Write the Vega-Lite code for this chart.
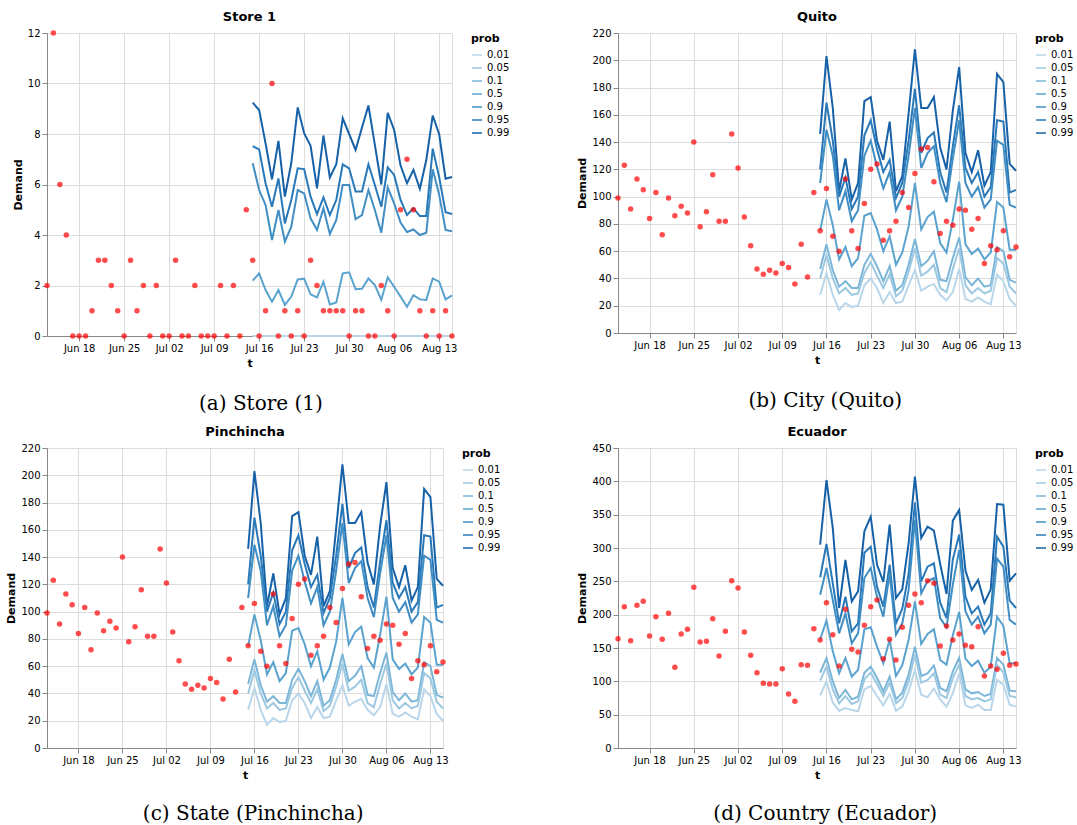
{
 "$schema": "https://vega.github.io/schema/vega-lite/v6.json",
 "padding": {"left": 5, "top": 10, "right": 0, "bottom": 0},
 "config": {"font": "DejaVu Sans", "view": {"stroke": "#ddd"}, "legend": {"offset": 13}},
 "datasets": {
  "s1o": [
   {"t":"2017/06/13","d":2},{"t":"2017/06/14","d":12},{"t":"2017/06/15","d":6},{"t":"2017/06/16","d":4},{"t":"2017/06/17","d":0},{"t":"2017/06/18","d":0},{"t":"2017/06/19","d":0},{"t":"2017/06/20","d":1},{"t":"2017/06/21","d":3},{"t":"2017/06/22","d":3},{"t":"2017/06/23","d":2},{"t":"2017/06/24","d":1},{"t":"2017/06/25","d":0},{"t":"2017/06/26","d":3},{"t":"2017/06/27","d":1},{"t":"2017/06/28","d":2},{"t":"2017/06/29","d":0},{"t":"2017/06/30","d":2},
   {"t":"2017/07/01","d":0},{"t":"2017/07/02","d":0},{"t":"2017/07/03","d":3},{"t":"2017/07/04","d":0},{"t":"2017/07/05","d":0},{"t":"2017/07/06","d":2},{"t":"2017/07/07","d":0},{"t":"2017/07/08","d":0},{"t":"2017/07/09","d":0},{"t":"2017/07/10","d":2},{"t":"2017/07/11","d":0},{"t":"2017/07/12","d":2},{"t":"2017/07/13","d":0},{"t":"2017/07/14","d":5},{"t":"2017/07/15","d":3},{"t":"2017/07/16","d":0},{"t":"2017/07/17","d":1},{"t":"2017/07/18","d":10},{"t":"2017/07/19","d":0},{"t":"2017/07/20","d":1},{"t":"2017/07/21","d":0},{"t":"2017/07/22","d":1},{"t":"2017/07/23","d":0},{"t":"2017/07/24","d":3},{"t":"2017/07/25","d":2},{"t":"2017/07/26","d":1},{"t":"2017/07/27","d":1},{"t":"2017/07/28","d":1},{"t":"2017/07/29","d":1},{"t":"2017/07/30","d":0},{"t":"2017/07/31","d":1},
   {"t":"2017/08/01","d":1},{"t":"2017/08/02","d":0},{"t":"2017/08/03","d":0},{"t":"2017/08/04","d":2},{"t":"2017/08/05","d":1},{"t":"2017/08/06","d":0},{"t":"2017/08/07","d":5},{"t":"2017/08/08","d":7},{"t":"2017/08/09","d":5},{"t":"2017/08/10","d":1},{"t":"2017/08/11","d":0},{"t":"2017/08/12","d":1},{"t":"2017/08/13","d":0},{"t":"2017/08/14","d":1},{"t":"2017/08/15","d":0}
  ],
  "s1q": [
   {"t":"2017/07/15","p":0.99,"y":9.24},{"t":"2017/07/16","p":0.99,"y":8.95},{"t":"2017/07/17","p":0.99,"y":7.63},{"t":"2017/07/18","p":0.99,"y":6.2},{"t":"2017/07/19","p":0.99,"y":7.73},{"t":"2017/07/20","p":0.99,"y":5.52},{"t":"2017/07/21","p":0.99,"y":6.85},{"t":"2017/07/22","p":0.99,"y":9.05},{"t":"2017/07/23","p":0.99,"y":8.03},{"t":"2017/07/24","p":0.99,"y":7.53},{"t":"2017/07/25","p":0.99,"y":5.85},{"t":"2017/07/26","p":0.99,"y":7.94},{"t":"2017/07/27","p":0.99,"y":6.28},{"t":"2017/07/28","p":0.99,"y":6.8},{"t":"2017/07/29","p":0.99,"y":8.62},{"t":"2017/07/30","p":0.99,"y":8.0},{"t":"2017/07/31","p":0.99,"y":7.37},{"t":"2017/08/01","p":0.99,"y":8.26},{"t":"2017/08/02","p":0.99,"y":9.13},{"t":"2017/08/03","p":0.99,"y":7.57},{"t":"2017/08/04","p":0.99,"y":6.0},{"t":"2017/08/05","p":0.99,"y":8.84},{"t":"2017/08/06","p":0.99,"y":8.16},{"t":"2017/08/07","p":0.99,"y":6.75},{"t":"2017/08/08","p":0.99,"y":6.05},{"t":"2017/08/09","p":0.99,"y":6.58},{"t":"2017/08/10","p":0.99,"y":5.83},{"t":"2017/08/11","p":0.99,"y":6.97},{"t":"2017/08/12","p":0.99,"y":8.73},{"t":"2017/08/13","p":0.99,"y":8.0},{"t":"2017/08/14","p":0.99,"y":6.23},{"t":"2017/08/15","p":0.99,"y":6.3},
   {"t":"2017/07/15","p":0.95,"y":7.52},{"t":"2017/07/16","p":0.95,"y":7.39},{"t":"2017/07/17","p":0.95,"y":6.05},{"t":"2017/07/18","p":0.95,"y":5.12},{"t":"2017/07/19","p":0.95,"y":6.24},{"t":"2017/07/20","p":0.95,"y":4.46},{"t":"2017/07/21","p":0.95,"y":5.39},{"t":"2017/07/22","p":0.95,"y":6.64},{"t":"2017/07/23","p":0.95,"y":6.61},{"t":"2017/07/24","p":0.95,"y":5.52},{"t":"2017/07/25","p":0.95,"y":4.83},{"t":"2017/07/26","p":0.95,"y":5.49},{"t":"2017/07/27","p":0.95,"y":4.79},{"t":"2017/07/28","p":0.95,"y":5.39},{"t":"2017/07/29","p":0.95,"y":6.8},{"t":"2017/07/30","p":0.95,"y":6.64},{"t":"2017/07/31","p":0.95,"y":5.72},{"t":"2017/08/01","p":0.95,"y":5.72},{"t":"2017/08/02","p":0.95,"y":6.8},{"t":"2017/08/03","p":0.95,"y":5.98},{"t":"2017/08/04","p":0.95,"y":5.12},{"t":"2017/08/05","p":0.95,"y":6.68},{"t":"2017/08/06","p":0.95,"y":6.38},{"t":"2017/08/07","p":0.95,"y":5.39},{"t":"2017/08/08","p":0.95,"y":4.79},{"t":"2017/08/09","p":0.95,"y":5.06},{"t":"2017/08/10","p":0.95,"y":4.75},{"t":"2017/08/11","p":0.95,"y":4.75},{"t":"2017/08/12","p":0.95,"y":7.42},{"t":"2017/08/13","p":0.95,"y":6.3},{"t":"2017/08/14","p":0.95,"y":4.9},{"t":"2017/08/15","p":0.95,"y":4.83},
   {"t":"2017/07/15","p":0.9,"y":6.84},{"t":"2017/07/16","p":0.9,"y":5.78},{"t":"2017/07/17","p":0.9,"y":5.19},{"t":"2017/07/18","p":0.9,"y":3.8},{"t":"2017/07/19","p":0.9,"y":4.99},{"t":"2017/07/20","p":0.9,"y":3.74},{"t":"2017/07/21","p":0.9,"y":4.33},{"t":"2017/07/22","p":0.9,"y":5.78},{"t":"2017/07/23","p":0.9,"y":5.65},{"t":"2017/07/24","p":0.9,"y":4.66},{"t":"2017/07/25","p":0.9,"y":4.2},{"t":"2017/07/26","p":0.9,"y":5.06},{"t":"2017/07/27","p":0.9,"y":4.04},{"t":"2017/07/28","p":0.9,"y":4.6},{"t":"2017/07/29","p":0.9,"y":5.98},{"t":"2017/07/30","p":0.9,"y":5.98},{"t":"2017/07/31","p":0.9,"y":4.63},{"t":"2017/08/01","p":0.9,"y":4.79},{"t":"2017/08/02","p":0.9,"y":5.78},{"t":"2017/08/03","p":0.9,"y":4.99},{"t":"2017/08/04","p":0.9,"y":4.09},{"t":"2017/08/05","p":0.9,"y":5.89},{"t":"2017/08/06","p":0.9,"y":5.25},{"t":"2017/08/07","p":0.9,"y":4.49},{"t":"2017/08/08","p":0.9,"y":4.12},{"t":"2017/08/09","p":0.9,"y":4.22},{"t":"2017/08/10","p":0.9,"y":4.0},{"t":"2017/08/11","p":0.9,"y":4.09},{"t":"2017/08/12","p":0.9,"y":6.6},{"t":"2017/08/13","p":0.9,"y":5.6},{"t":"2017/08/14","p":0.9,"y":4.2},{"t":"2017/08/15","p":0.9,"y":4.15},
   {"t":"2017/07/15","p":0.5,"y":2.19},{"t":"2017/07/16","p":0.5,"y":2.48},{"t":"2017/07/17","p":0.5,"y":1.82},{"t":"2017/07/18","p":0.5,"y":1.36},{"t":"2017/07/19","p":0.5,"y":1.82},{"t":"2017/07/20","p":0.5,"y":1.23},{"t":"2017/07/21","p":0.5,"y":1.56},{"t":"2017/07/22","p":0.5,"y":2.24},{"t":"2017/07/23","p":0.5,"y":2.27},{"t":"2017/07/24","p":0.5,"y":1.65},{"t":"2017/07/25","p":0.5,"y":1.53},{"t":"2017/07/26","p":0.5,"y":2.15},{"t":"2017/07/27","p":0.5,"y":1.25},{"t":"2017/07/28","p":0.5,"y":1.33},{"t":"2017/07/29","p":0.5,"y":2.48},{"t":"2017/07/30","p":0.5,"y":2.52},{"t":"2017/07/31","p":0.5,"y":1.85},{"t":"2017/08/01","p":0.5,"y":1.87},{"t":"2017/08/02","p":0.5,"y":2.28},{"t":"2017/08/03","p":0.5,"y":2.02},{"t":"2017/08/04","p":0.5,"y":1.43},{"t":"2017/08/05","p":0.5,"y":2.32},{"t":"2017/08/06","p":0.5,"y":1.95},{"t":"2017/08/07","p":0.5,"y":1.56},{"t":"2017/08/08","p":0.5,"y":1.16},{"t":"2017/08/09","p":0.5,"y":1.62},{"t":"2017/08/10","p":0.5,"y":1.45},{"t":"2017/08/11","p":0.5,"y":1.43},{"t":"2017/08/12","p":0.5,"y":2.28},{"t":"2017/08/13","p":0.5,"y":2.15},{"t":"2017/08/14","p":0.5,"y":1.45},{"t":"2017/08/15","p":0.5,"y":1.61},
   {"t":"2017/07/15","p":0.1,"y":0},{"t":"2017/07/16","p":0.1,"y":0},{"t":"2017/07/17","p":0.1,"y":0},{"t":"2017/07/18","p":0.1,"y":0},{"t":"2017/07/19","p":0.1,"y":0},{"t":"2017/07/20","p":0.1,"y":0},{"t":"2017/07/21","p":0.1,"y":0},{"t":"2017/07/22","p":0.1,"y":0},{"t":"2017/07/23","p":0.1,"y":0},{"t":"2017/07/24","p":0.1,"y":0},{"t":"2017/07/25","p":0.1,"y":0},{"t":"2017/07/26","p":0.1,"y":0},{"t":"2017/07/27","p":0.1,"y":0},{"t":"2017/07/28","p":0.1,"y":0},{"t":"2017/07/29","p":0.1,"y":0},{"t":"2017/07/30","p":0.1,"y":0},{"t":"2017/07/31","p":0.1,"y":0},{"t":"2017/08/01","p":0.1,"y":0},{"t":"2017/08/02","p":0.1,"y":0},{"t":"2017/08/03","p":0.1,"y":0},{"t":"2017/08/04","p":0.1,"y":0},{"t":"2017/08/05","p":0.1,"y":0},{"t":"2017/08/06","p":0.1,"y":0},{"t":"2017/08/07","p":0.1,"y":0},{"t":"2017/08/08","p":0.1,"y":0},{"t":"2017/08/09","p":0.1,"y":0},{"t":"2017/08/10","p":0.1,"y":0},{"t":"2017/08/11","p":0.1,"y":0},{"t":"2017/08/12","p":0.1,"y":0},{"t":"2017/08/13","p":0.1,"y":0},{"t":"2017/08/14","p":0.1,"y":0},{"t":"2017/08/15","p":0.1,"y":0},
   {"t":"2017/07/15","p":0.05,"y":0},{"t":"2017/07/16","p":0.05,"y":0},{"t":"2017/07/17","p":0.05,"y":0},{"t":"2017/07/18","p":0.05,"y":0},{"t":"2017/07/19","p":0.05,"y":0},{"t":"2017/07/20","p":0.05,"y":0},{"t":"2017/07/21","p":0.05,"y":0},{"t":"2017/07/22","p":0.05,"y":0},{"t":"2017/07/23","p":0.05,"y":0},{"t":"2017/07/24","p":0.05,"y":0},{"t":"2017/07/25","p":0.05,"y":0},{"t":"2017/07/26","p":0.05,"y":0},{"t":"2017/07/27","p":0.05,"y":0},{"t":"2017/07/28","p":0.05,"y":0},{"t":"2017/07/29","p":0.05,"y":0},{"t":"2017/07/30","p":0.05,"y":0},{"t":"2017/07/31","p":0.05,"y":0},{"t":"2017/08/01","p":0.05,"y":0},{"t":"2017/08/02","p":0.05,"y":0},{"t":"2017/08/03","p":0.05,"y":0},{"t":"2017/08/04","p":0.05,"y":0},{"t":"2017/08/05","p":0.05,"y":0},{"t":"2017/08/06","p":0.05,"y":0},{"t":"2017/08/07","p":0.05,"y":0},{"t":"2017/08/08","p":0.05,"y":0},{"t":"2017/08/09","p":0.05,"y":0},{"t":"2017/08/10","p":0.05,"y":0},{"t":"2017/08/11","p":0.05,"y":0},{"t":"2017/08/12","p":0.05,"y":0},{"t":"2017/08/13","p":0.05,"y":0},{"t":"2017/08/14","p":0.05,"y":0},{"t":"2017/08/15","p":0.05,"y":0},
   {"t":"2017/07/15","p":0.01,"y":0},{"t":"2017/07/16","p":0.01,"y":0},{"t":"2017/07/17","p":0.01,"y":0},{"t":"2017/07/18","p":0.01,"y":0},{"t":"2017/07/19","p":0.01,"y":0},{"t":"2017/07/20","p":0.01,"y":0},{"t":"2017/07/21","p":0.01,"y":0},{"t":"2017/07/22","p":0.01,"y":0},{"t":"2017/07/23","p":0.01,"y":0},{"t":"2017/07/24","p":0.01,"y":0},{"t":"2017/07/25","p":0.01,"y":0},{"t":"2017/07/26","p":0.01,"y":0},{"t":"2017/07/27","p":0.01,"y":0},{"t":"2017/07/28","p":0.01,"y":0},{"t":"2017/07/29","p":0.01,"y":0},{"t":"2017/07/30","p":0.01,"y":0},{"t":"2017/07/31","p":0.01,"y":0},{"t":"2017/08/01","p":0.01,"y":0},{"t":"2017/08/02","p":0.01,"y":0},{"t":"2017/08/03","p":0.01,"y":0},{"t":"2017/08/04","p":0.01,"y":0},{"t":"2017/08/05","p":0.01,"y":0},{"t":"2017/08/06","p":0.01,"y":0},{"t":"2017/08/07","p":0.01,"y":0},{"t":"2017/08/08","p":0.01,"y":0},{"t":"2017/08/09","p":0.01,"y":0},{"t":"2017/08/10","p":0.01,"y":0},{"t":"2017/08/11","p":0.01,"y":0},{"t":"2017/08/12","p":0.01,"y":0},{"t":"2017/08/13","p":0.01,"y":0},{"t":"2017/08/14","p":0.01,"y":0},{"t":"2017/08/15","p":0.01,"y":0}
  ],
  "qo": [
   {"t":"2017/06/13","d":99},{"t":"2017/06/14","d":123},{"t":"2017/06/15","d":91},{"t":"2017/06/16","d":113},{"t":"2017/06/17","d":105},{"t":"2017/06/18","d":84},{"t":"2017/06/19","d":103},{"t":"2017/06/20","d":72},{"t":"2017/06/21","d":99},{"t":"2017/06/22","d":86},{"t":"2017/06/23","d":93},{"t":"2017/06/24","d":88},{"t":"2017/06/25","d":140},{"t":"2017/06/26","d":78},{"t":"2017/06/27","d":89},{"t":"2017/06/28","d":116},{"t":"2017/06/29","d":82},{"t":"2017/06/30","d":82},
   {"t":"2017/07/01","d":146},{"t":"2017/07/02","d":121},{"t":"2017/07/03","d":85},{"t":"2017/07/04","d":64},{"t":"2017/07/05","d":47},{"t":"2017/07/06","d":43},{"t":"2017/07/07","d":46},{"t":"2017/07/08","d":44},{"t":"2017/07/09","d":51},{"t":"2017/07/10","d":48},{"t":"2017/07/11","d":36},{"t":"2017/07/12","d":65},{"t":"2017/07/13","d":41},{"t":"2017/07/14","d":103},{"t":"2017/07/15","d":75},{"t":"2017/07/16","d":106},{"t":"2017/07/17","d":71},{"t":"2017/07/18","d":60},{"t":"2017/07/19","d":113},{"t":"2017/07/20","d":75},{"t":"2017/07/21","d":62},{"t":"2017/07/22","d":95},{"t":"2017/07/23","d":120},{"t":"2017/07/24","d":124},{"t":"2017/07/25","d":68},{"t":"2017/07/26","d":75},{"t":"2017/07/27","d":82},{"t":"2017/07/28","d":103},{"t":"2017/07/29","d":92},{"t":"2017/07/30","d":117},{"t":"2017/07/31","d":135},
   {"t":"2017/08/01","d":136},{"t":"2017/08/02","d":111},{"t":"2017/08/03","d":73},{"t":"2017/08/04","d":82},{"t":"2017/08/05","d":79},{"t":"2017/08/06","d":91},{"t":"2017/08/07","d":90},{"t":"2017/08/08","d":76},{"t":"2017/08/09","d":84},{"t":"2017/08/10","d":51},{"t":"2017/08/11","d":64},{"t":"2017/08/12","d":61},{"t":"2017/08/13","d":75},{"t":"2017/08/14","d":56},{"t":"2017/08/15","d":63}
  ],
  "qq": [
   {"t":"2017/07/15","p":0.99,"y":146},{"t":"2017/07/16","p":0.99,"y":203},{"t":"2017/07/17","p":0.99,"y":165},{"t":"2017/07/18","p":0.99,"y":104},{"t":"2017/07/19","p":0.99,"y":128},{"t":"2017/07/20","p":0.99,"y":98},{"t":"2017/07/21","p":0.99,"y":110},{"t":"2017/07/22","p":0.99,"y":170},{"t":"2017/07/23","p":0.99,"y":173},{"t":"2017/07/24","p":0.99,"y":141},{"t":"2017/07/25","p":0.99,"y":127},{"t":"2017/07/26","p":0.99,"y":155},{"t":"2017/07/27","p":0.99,"y":104},{"t":"2017/07/28","p":0.99,"y":115},{"t":"2017/07/29","p":0.99,"y":161},{"t":"2017/07/30","p":0.99,"y":208},{"t":"2017/07/31","p":0.99,"y":165},{"t":"2017/08/01","p":0.99,"y":165},{"t":"2017/08/02","p":0.99,"y":173},{"t":"2017/08/03","p":0.99,"y":136},{"t":"2017/08/04","p":0.99,"y":120},{"t":"2017/08/05","p":0.99,"y":163},{"t":"2017/08/06","p":0.99,"y":195},{"t":"2017/08/07","p":0.99,"y":132},{"t":"2017/08/08","p":0.99,"y":118},{"t":"2017/08/09","p":0.99,"y":134},{"t":"2017/08/10","p":0.99,"y":108},{"t":"2017/08/11","p":0.99,"y":118},{"t":"2017/08/12","p":0.99,"y":190},{"t":"2017/08/13","p":0.99,"y":184},{"t":"2017/08/14","p":0.99,"y":124},{"t":"2017/08/15","p":0.99,"y":119},
   {"t":"2017/07/15","p":0.95,"y":120},{"t":"2017/07/16","p":0.95,"y":169},{"t":"2017/07/17","p":0.95,"y":141},{"t":"2017/07/18","p":0.95,"y":100},{"t":"2017/07/19","p":0.95,"y":114},{"t":"2017/07/20","p":0.95,"y":91},{"t":"2017/07/21","p":0.95,"y":100},{"t":"2017/07/22","p":0.95,"y":145},{"t":"2017/07/23","p":0.95,"y":156},{"t":"2017/07/24","p":0.95,"y":135},{"t":"2017/07/25","p":0.95,"y":118},{"t":"2017/07/26","p":0.95,"y":127},{"t":"2017/07/27","p":0.95,"y":99},{"t":"2017/07/28","p":0.95,"y":110},{"t":"2017/07/29","p":0.95,"y":141},{"t":"2017/07/30","p":0.95,"y":179},{"t":"2017/07/31","p":0.95,"y":132},{"t":"2017/08/01","p":0.95,"y":143},{"t":"2017/08/02","p":0.95,"y":147},{"t":"2017/08/03","p":0.95,"y":118},{"t":"2017/08/04","p":0.95,"y":103},{"t":"2017/08/05","p":0.95,"y":137},{"t":"2017/08/06","p":0.95,"y":167},{"t":"2017/08/07","p":0.95,"y":121},{"t":"2017/08/08","p":0.95,"y":110},{"t":"2017/08/09","p":0.95,"y":118},{"t":"2017/08/10","p":0.95,"y":100},{"t":"2017/08/11","p":0.95,"y":107},{"t":"2017/08/12","p":0.95,"y":156},{"t":"2017/08/13","p":0.95,"y":155},{"t":"2017/08/14","p":0.95,"y":103},{"t":"2017/08/15","p":0.95,"y":105},
   {"t":"2017/07/15","p":0.9,"y":110},{"t":"2017/07/16","p":0.9,"y":149},{"t":"2017/07/17","p":0.9,"y":130},{"t":"2017/07/18","p":0.9,"y":90},{"t":"2017/07/19","p":0.9,"y":104},{"t":"2017/07/20","p":0.9,"y":82},{"t":"2017/07/21","p":0.9,"y":90},{"t":"2017/07/22","p":0.9,"y":130},{"t":"2017/07/23","p":0.9,"y":141},{"t":"2017/07/24","p":0.9,"y":122},{"t":"2017/07/25","p":0.9,"y":106},{"t":"2017/07/26","p":0.9,"y":118},{"t":"2017/07/27","p":0.9,"y":90},{"t":"2017/07/28","p":0.9,"y":100},{"t":"2017/07/29","p":0.9,"y":130},{"t":"2017/07/30","p":0.9,"y":165},{"t":"2017/07/31","p":0.9,"y":121},{"t":"2017/08/01","p":0.9,"y":132},{"t":"2017/08/02","p":0.9,"y":137},{"t":"2017/08/03","p":0.9,"y":110},{"t":"2017/08/04","p":0.9,"y":96},{"t":"2017/08/05","p":0.9,"y":128},{"t":"2017/08/06","p":0.9,"y":156},{"t":"2017/08/07","p":0.9,"y":110},{"t":"2017/08/08","p":0.9,"y":100},{"t":"2017/08/09","p":0.9,"y":107},{"t":"2017/08/10","p":0.9,"y":92},{"t":"2017/08/11","p":0.9,"y":98},{"t":"2017/08/12","p":0.9,"y":141},{"t":"2017/08/13","p":0.9,"y":138},{"t":"2017/08/14","p":0.9,"y":94},{"t":"2017/08/15","p":0.9,"y":92},
   {"t":"2017/07/15","p":0.5,"y":75},{"t":"2017/07/16","p":0.5,"y":98},{"t":"2017/07/17","p":0.5,"y":79},{"t":"2017/07/18","p":0.5,"y":54},{"t":"2017/07/19","p":0.5,"y":63},{"t":"2017/07/20","p":0.5,"y":49},{"t":"2017/07/21","p":0.5,"y":55},{"t":"2017/07/22","p":0.5,"y":86},{"t":"2017/07/23","p":0.5,"y":88},{"t":"2017/07/24","p":0.5,"y":76},{"t":"2017/07/25","p":0.5,"y":60},{"t":"2017/07/26","p":0.5,"y":71},{"t":"2017/07/27","p":0.5,"y":50},{"t":"2017/07/28","p":0.5,"y":59},{"t":"2017/07/29","p":0.5,"y":78},{"t":"2017/07/30","p":0.5,"y":110},{"t":"2017/07/31","p":0.5,"y":76},{"t":"2017/08/01","p":0.5,"y":85},{"t":"2017/08/02","p":0.5,"y":89},{"t":"2017/08/03","p":0.5,"y":66},{"t":"2017/08/04","p":0.5,"y":59},{"t":"2017/08/05","p":0.5,"y":83},{"t":"2017/08/06","p":0.5,"y":111},{"t":"2017/08/07","p":0.5,"y":65},{"t":"2017/08/08","p":0.5,"y":58},{"t":"2017/08/09","p":0.5,"y":62},{"t":"2017/08/10","p":0.5,"y":54},{"t":"2017/08/11","p":0.5,"y":59},{"t":"2017/08/12","p":0.5,"y":96},{"t":"2017/08/13","p":0.5,"y":92},{"t":"2017/08/14","p":0.5,"y":61},{"t":"2017/08/15","p":0.5,"y":61},
   {"t":"2017/07/15","p":0.1,"y":47},{"t":"2017/07/16","p":0.1,"y":65},{"t":"2017/07/17","p":0.1,"y":46},{"t":"2017/07/18","p":0.1,"y":34},{"t":"2017/07/19","p":0.1,"y":38},{"t":"2017/07/20","p":0.1,"y":33},{"t":"2017/07/21","p":0.1,"y":33},{"t":"2017/07/22","p":0.1,"y":50},{"t":"2017/07/23","p":0.1,"y":58},{"t":"2017/07/24","p":0.1,"y":49},{"t":"2017/07/25","p":0.1,"y":38},{"t":"2017/07/26","p":0.1,"y":49},{"t":"2017/07/27","p":0.1,"y":31},{"t":"2017/07/28","p":0.1,"y":35},{"t":"2017/07/29","p":0.1,"y":50},{"t":"2017/07/30","p":0.1,"y":69},{"t":"2017/07/31","p":0.1,"y":49},{"t":"2017/08/01","p":0.1,"y":53},{"t":"2017/08/02","p":0.1,"y":60},{"t":"2017/08/03","p":0.1,"y":39},{"t":"2017/08/04","p":0.1,"y":38},{"t":"2017/08/05","p":0.1,"y":55},{"t":"2017/08/06","p":0.1,"y":70},{"t":"2017/08/07","p":0.1,"y":41},{"t":"2017/08/08","p":0.1,"y":35},{"t":"2017/08/09","p":0.1,"y":40},{"t":"2017/08/10","p":0.1,"y":34},{"t":"2017/08/11","p":0.1,"y":35},{"t":"2017/08/12","p":0.1,"y":63},{"t":"2017/08/13","p":0.1,"y":60},{"t":"2017/08/14","p":0.1,"y":39},{"t":"2017/08/15","p":0.1,"y":37},
   {"t":"2017/07/15","p":0.05,"y":40},{"t":"2017/07/16","p":0.05,"y":57},{"t":"2017/07/17","p":0.05,"y":40},{"t":"2017/07/18","p":0.05,"y":29},{"t":"2017/07/19","p":0.05,"y":33},{"t":"2017/07/20","p":0.05,"y":28},{"t":"2017/07/21","p":0.05,"y":29},{"t":"2017/07/22","p":0.05,"y":44},{"t":"2017/07/23","p":0.05,"y":52},{"t":"2017/07/24","p":0.05,"y":42},{"t":"2017/07/25","p":0.05,"y":33},{"t":"2017/07/26","p":0.05,"y":43},{"t":"2017/07/27","p":0.05,"y":27},{"t":"2017/07/28","p":0.05,"y":31},{"t":"2017/07/29","p":0.05,"y":45},{"t":"2017/07/30","p":0.05,"y":62},{"t":"2017/07/31","p":0.05,"y":42},{"t":"2017/08/01","p":0.05,"y":45},{"t":"2017/08/02","p":0.05,"y":50},{"t":"2017/08/03","p":0.05,"y":33},{"t":"2017/08/04","p":0.05,"y":30},{"t":"2017/08/05","p":0.05,"y":47},{"t":"2017/08/06","p":0.05,"y":62},{"t":"2017/08/07","p":0.05,"y":35},{"t":"2017/08/08","p":0.05,"y":29},{"t":"2017/08/09","p":0.05,"y":33},{"t":"2017/08/10","p":0.05,"y":29},{"t":"2017/08/11","p":0.05,"y":31},{"t":"2017/08/12","p":0.05,"y":55},{"t":"2017/08/13","p":0.05,"y":51},{"t":"2017/08/14","p":0.05,"y":34},{"t":"2017/08/15","p":0.05,"y":29},
   {"t":"2017/07/15","p":0.01,"y":28},{"t":"2017/07/16","p":0.01,"y":44},{"t":"2017/07/17","p":0.01,"y":28},{"t":"2017/07/18","p":0.01,"y":17},{"t":"2017/07/19","p":0.01,"y":22},{"t":"2017/07/20","p":0.01,"y":19},{"t":"2017/07/21","p":0.01,"y":20},{"t":"2017/07/22","p":0.01,"y":35},{"t":"2017/07/23","p":0.01,"y":40},{"t":"2017/07/24","p":0.01,"y":33},{"t":"2017/07/25","p":0.01,"y":22},{"t":"2017/07/26","p":0.01,"y":30},{"t":"2017/07/27","p":0.01,"y":22},{"t":"2017/07/28","p":0.01,"y":23},{"t":"2017/07/29","p":0.01,"y":35},{"t":"2017/07/30","p":0.01,"y":46},{"t":"2017/07/31","p":0.01,"y":31},{"t":"2017/08/01","p":0.01,"y":34},{"t":"2017/08/02","p":0.01,"y":36},{"t":"2017/08/03","p":0.01,"y":28},{"t":"2017/08/04","p":0.01,"y":24},{"t":"2017/08/05","p":0.01,"y":30},{"t":"2017/08/06","p":0.01,"y":47},{"t":"2017/08/07","p":0.01,"y":25},{"t":"2017/08/08","p":0.01,"y":23},{"t":"2017/08/09","p":0.01,"y":26},{"t":"2017/08/10","p":0.01,"y":23},{"t":"2017/08/11","p":0.01,"y":21},{"t":"2017/08/12","p":0.01,"y":43},{"t":"2017/08/13","p":0.01,"y":38},{"t":"2017/08/14","p":0.01,"y":25},{"t":"2017/08/15","p":0.01,"y":20}
  ],
  "eo": [
   {"t":"2017/06/13","d":164},{"t":"2017/06/14","d":212},{"t":"2017/06/15","d":161},{"t":"2017/06/16","d":214},{"t":"2017/06/17","d":220},{"t":"2017/06/18","d":168},{"t":"2017/06/19","d":197},{"t":"2017/06/20","d":163},{"t":"2017/06/21","d":202},{"t":"2017/06/22","d":121},{"t":"2017/06/23","d":171},{"t":"2017/06/24","d":178},{"t":"2017/06/25","d":241},{"t":"2017/06/26","d":159},{"t":"2017/06/27","d":160},{"t":"2017/06/28","d":194},{"t":"2017/06/29","d":138},{"t":"2017/06/30","d":175},
   {"t":"2017/07/01","d":251},{"t":"2017/07/02","d":240},{"t":"2017/07/03","d":174},{"t":"2017/07/04","d":139},{"t":"2017/07/05","d":113},{"t":"2017/07/06","d":97},{"t":"2017/07/07","d":96},{"t":"2017/07/08","d":96},{"t":"2017/07/09","d":119},{"t":"2017/07/10","d":81},{"t":"2017/07/11","d":70},{"t":"2017/07/12","d":125},{"t":"2017/07/13","d":124},{"t":"2017/07/14","d":179},{"t":"2017/07/15","d":162},{"t":"2017/07/16","d":218},{"t":"2017/07/17","d":170},{"t":"2017/07/18","d":123},{"t":"2017/07/19","d":208},{"t":"2017/07/20","d":148},{"t":"2017/07/21","d":144},{"t":"2017/07/22","d":184},{"t":"2017/07/23","d":212},{"t":"2017/07/24","d":222},{"t":"2017/07/25","d":134},{"t":"2017/07/26","d":163},{"t":"2017/07/27","d":132},{"t":"2017/07/28","d":181},{"t":"2017/07/29","d":214},{"t":"2017/07/30","d":231},{"t":"2017/07/31","d":218},
   {"t":"2017/08/01","d":251},{"t":"2017/08/02","d":247},{"t":"2017/08/03","d":153},{"t":"2017/08/04","d":183},{"t":"2017/08/05","d":162},{"t":"2017/08/06","d":171},{"t":"2017/08/07","d":154},{"t":"2017/08/08","d":152},{"t":"2017/08/09","d":182},{"t":"2017/08/10","d":108},{"t":"2017/08/11","d":123},{"t":"2017/08/12","d":118},{"t":"2017/08/13","d":142},{"t":"2017/08/14","d":124},{"t":"2017/08/15","d":126}
  ],
  "eq": [
   {"t":"2017/07/15","p":0.99,"y":305},{"t":"2017/07/16","p":0.99,"y":402},{"t":"2017/07/17","p":0.99,"y":330},{"t":"2017/07/18","p":0.99,"y":210},{"t":"2017/07/19","p":0.99,"y":282},{"t":"2017/07/20","p":0.99,"y":220},{"t":"2017/07/21","p":0.99,"y":235},{"t":"2017/07/22","p":0.99,"y":325},{"t":"2017/07/23","p":0.99,"y":347},{"t":"2017/07/24","p":0.99,"y":275},{"t":"2017/07/25","p":0.99,"y":249},{"t":"2017/07/26","p":0.99,"y":335},{"t":"2017/07/27","p":0.99,"y":225},{"t":"2017/07/28","p":0.99,"y":238},{"t":"2017/07/29","p":0.99,"y":307},{"t":"2017/07/30","p":0.99,"y":407},{"t":"2017/07/31","p":0.99,"y":315},{"t":"2017/08/01","p":0.99,"y":332},{"t":"2017/08/02","p":0.99,"y":326},{"t":"2017/08/03","p":0.99,"y":276},{"t":"2017/08/04","p":0.99,"y":231},{"t":"2017/08/05","p":0.99,"y":341},{"t":"2017/08/06","p":0.99,"y":357},{"t":"2017/08/07","p":0.99,"y":266},{"t":"2017/08/08","p":0.99,"y":237},{"t":"2017/08/09","p":0.99,"y":252},{"t":"2017/08/10","p":0.99,"y":218},{"t":"2017/08/11","p":0.99,"y":238},{"t":"2017/08/12","p":0.99,"y":366},{"t":"2017/08/13","p":0.99,"y":365},{"t":"2017/08/14","p":0.99,"y":251},{"t":"2017/08/15","p":0.99,"y":262},
   {"t":"2017/07/15","p":0.95,"y":256},{"t":"2017/07/16","p":0.95,"y":306},{"t":"2017/07/17","p":0.95,"y":247},{"t":"2017/07/18","p":0.95,"y":187},{"t":"2017/07/19","p":0.95,"y":227},{"t":"2017/07/20","p":0.95,"y":175},{"t":"2017/07/21","p":0.95,"y":187},{"t":"2017/07/22","p":0.95,"y":293},{"t":"2017/07/23","p":0.95,"y":302},{"t":"2017/07/24","p":0.95,"y":242},{"t":"2017/07/25","p":0.95,"y":212},{"t":"2017/07/26","p":0.95,"y":275},{"t":"2017/07/27","p":0.95,"y":187},{"t":"2017/07/28","p":0.95,"y":209},{"t":"2017/07/29","p":0.95,"y":261},{"t":"2017/07/30","p":0.95,"y":368},{"t":"2017/07/31","p":0.95,"y":250},{"t":"2017/08/01","p":0.95,"y":272},{"t":"2017/08/02","p":0.95,"y":277},{"t":"2017/08/03","p":0.95,"y":218},{"t":"2017/08/04","p":0.95,"y":195},{"t":"2017/08/05","p":0.95,"y":283},{"t":"2017/08/06","p":0.95,"y":320},{"t":"2017/08/07","p":0.95,"y":227},{"t":"2017/08/08","p":0.95,"y":202},{"t":"2017/08/09","p":0.95,"y":212},{"t":"2017/08/10","p":0.95,"y":185},{"t":"2017/08/11","p":0.95,"y":202},{"t":"2017/08/12","p":0.95,"y":317},{"t":"2017/08/13","p":0.95,"y":302},{"t":"2017/08/14","p":0.95,"y":221},{"t":"2017/08/15","p":0.95,"y":210},
   {"t":"2017/07/15","p":0.9,"y":230},{"t":"2017/07/16","p":0.9,"y":270},{"t":"2017/07/17","p":0.9,"y":222},{"t":"2017/07/18","p":0.9,"y":172},{"t":"2017/07/19","p":0.9,"y":202},{"t":"2017/07/20","p":0.9,"y":157},{"t":"2017/07/21","p":0.9,"y":172},{"t":"2017/07/22","p":0.9,"y":255},{"t":"2017/07/23","p":0.9,"y":270},{"t":"2017/07/24","p":0.9,"y":227},{"t":"2017/07/25","p":0.9,"y":197},{"t":"2017/07/26","p":0.9,"y":262},{"t":"2017/07/27","p":0.9,"y":170},{"t":"2017/07/28","p":0.9,"y":187},{"t":"2017/07/29","p":0.9,"y":237},{"t":"2017/07/30","p":0.9,"y":342},{"t":"2017/07/31","p":0.9,"y":232},{"t":"2017/08/01","p":0.9,"y":250},{"t":"2017/08/02","p":0.9,"y":255},{"t":"2017/08/03","p":0.9,"y":195},{"t":"2017/08/04","p":0.9,"y":181},{"t":"2017/08/05","p":0.9,"y":245},{"t":"2017/08/06","p":0.9,"y":297},{"t":"2017/08/07","p":0.9,"y":205},{"t":"2017/08/08","p":0.9,"y":185},{"t":"2017/08/09","p":0.9,"y":197},{"t":"2017/08/10","p":0.9,"y":172},{"t":"2017/08/11","p":0.9,"y":185},{"t":"2017/08/12","p":0.9,"y":284},{"t":"2017/08/13","p":0.9,"y":272},{"t":"2017/08/14","p":0.9,"y":192},{"t":"2017/08/15","p":0.9,"y":185},
   {"t":"2017/07/15","p":0.5,"y":163},{"t":"2017/07/16","p":0.5,"y":191},{"t":"2017/07/17","p":0.5,"y":145},{"t":"2017/07/18","p":0.5,"y":112},{"t":"2017/07/19","p":0.5,"y":135},{"t":"2017/07/20","p":0.5,"y":107},{"t":"2017/07/21","p":0.5,"y":117},{"t":"2017/07/22","p":0.5,"y":178},{"t":"2017/07/23","p":0.5,"y":181},{"t":"2017/07/24","p":0.5,"y":152},{"t":"2017/07/25","p":0.5,"y":127},{"t":"2017/07/26","p":0.5,"y":163},{"t":"2017/07/27","p":0.5,"y":108},{"t":"2017/07/28","p":0.5,"y":124},{"t":"2017/07/29","p":0.5,"y":162},{"t":"2017/07/30","p":0.5,"y":220},{"t":"2017/07/31","p":0.5,"y":156},{"t":"2017/08/01","p":0.5,"y":171},{"t":"2017/08/02","p":0.5,"y":178},{"t":"2017/08/03","p":0.5,"y":132},{"t":"2017/08/04","p":0.5,"y":125},{"t":"2017/08/05","p":0.5,"y":169},{"t":"2017/08/06","p":0.5,"y":204},{"t":"2017/08/07","p":0.5,"y":134},{"t":"2017/08/08","p":0.5,"y":123},{"t":"2017/08/09","p":0.5,"y":131},{"t":"2017/08/10","p":0.5,"y":113},{"t":"2017/08/11","p":0.5,"y":122},{"t":"2017/08/12","p":0.5,"y":197},{"t":"2017/08/13","p":0.5,"y":183},{"t":"2017/08/14","p":0.5,"y":127},{"t":"2017/08/15","p":0.5,"y":127},
   {"t":"2017/07/15","p":0.1,"y":113},{"t":"2017/07/16","p":0.1,"y":135},{"t":"2017/07/17","p":0.1,"y":100},{"t":"2017/07/18","p":0.1,"y":75},{"t":"2017/07/19","p":0.1,"y":87},{"t":"2017/07/20","p":0.1,"y":73},{"t":"2017/07/21","p":0.1,"y":77},{"t":"2017/07/22","p":0.1,"y":113},{"t":"2017/07/23","p":0.1,"y":122},{"t":"2017/07/24","p":0.1,"y":105},{"t":"2017/07/25","p":0.1,"y":85},{"t":"2017/07/26","p":0.1,"y":107},{"t":"2017/07/27","p":0.1,"y":73},{"t":"2017/07/28","p":0.1,"y":83},{"t":"2017/07/29","p":0.1,"y":110},{"t":"2017/07/30","p":0.1,"y":152},{"t":"2017/07/31","p":0.1,"y":108},{"t":"2017/08/01","p":0.1,"y":112},{"t":"2017/08/02","p":0.1,"y":124},{"t":"2017/08/03","p":0.1,"y":90},{"t":"2017/08/04","p":0.1,"y":85},{"t":"2017/08/05","p":0.1,"y":115},{"t":"2017/08/06","p":0.1,"y":135},{"t":"2017/08/07","p":0.1,"y":88},{"t":"2017/08/08","p":0.1,"y":82},{"t":"2017/08/09","p":0.1,"y":84},{"t":"2017/08/10","p":0.1,"y":78},{"t":"2017/08/11","p":0.1,"y":81},{"t":"2017/08/12","p":0.1,"y":135},{"t":"2017/08/13","p":0.1,"y":125},{"t":"2017/08/14","p":0.1,"y":86},{"t":"2017/08/15","p":0.1,"y":85},
   {"t":"2017/07/15","p":0.05,"y":101},{"t":"2017/07/16","p":0.05,"y":122},{"t":"2017/07/17","p":0.05,"y":88},{"t":"2017/07/18","p":0.05,"y":67},{"t":"2017/07/19","p":0.05,"y":78},{"t":"2017/07/20","p":0.05,"y":66},{"t":"2017/07/21","p":0.05,"y":70},{"t":"2017/07/22","p":0.05,"y":103},{"t":"2017/07/23","p":0.05,"y":113},{"t":"2017/07/24","p":0.05,"y":96},{"t":"2017/07/25","p":0.05,"y":78},{"t":"2017/07/26","p":0.05,"y":98},{"t":"2017/07/27","p":0.05,"y":67},{"t":"2017/07/28","p":0.05,"y":75},{"t":"2017/07/29","p":0.05,"y":100},{"t":"2017/07/30","p":0.05,"y":140},{"t":"2017/07/31","p":0.05,"y":98},{"t":"2017/08/01","p":0.05,"y":102},{"t":"2017/08/02","p":0.05,"y":112},{"t":"2017/08/03","p":0.05,"y":80},{"t":"2017/08/04","p":0.05,"y":75},{"t":"2017/08/05","p":0.05,"y":105},{"t":"2017/08/06","p":0.05,"y":125},{"t":"2017/08/07","p":0.05,"y":78},{"t":"2017/08/08","p":0.05,"y":73},{"t":"2017/08/09","p":0.05,"y":75},{"t":"2017/08/10","p":0.05,"y":70},{"t":"2017/08/11","p":0.05,"y":73},{"t":"2017/08/12","p":0.05,"y":125},{"t":"2017/08/13","p":0.05,"y":113},{"t":"2017/08/14","p":0.05,"y":78},{"t":"2017/08/15","p":0.05,"y":76},
   {"t":"2017/07/15","p":0.01,"y":79},{"t":"2017/07/16","p":0.01,"y":100},{"t":"2017/07/17","p":0.01,"y":68},{"t":"2017/07/18","p":0.01,"y":56},{"t":"2017/07/19","p":0.01,"y":60},{"t":"2017/07/20","p":0.01,"y":57},{"t":"2017/07/21","p":0.01,"y":55},{"t":"2017/07/22","p":0.01,"y":88},{"t":"2017/07/23","p":0.01,"y":93},{"t":"2017/07/24","p":0.01,"y":78},{"t":"2017/07/25","p":0.01,"y":64},{"t":"2017/07/26","p":0.01,"y":81},{"t":"2017/07/27","p":0.01,"y":56},{"t":"2017/07/28","p":0.01,"y":62},{"t":"2017/07/29","p":0.01,"y":85},{"t":"2017/07/30","p":0.01,"y":117},{"t":"2017/07/31","p":0.01,"y":80},{"t":"2017/08/01","p":0.01,"y":76},{"t":"2017/08/02","p":0.01,"y":89},{"t":"2017/08/03","p":0.01,"y":73},{"t":"2017/08/04","p":0.01,"y":62},{"t":"2017/08/05","p":0.01,"y":82},{"t":"2017/08/06","p":0.01,"y":112},{"t":"2017/08/07","p":0.01,"y":64},{"t":"2017/08/08","p":0.01,"y":60},{"t":"2017/08/09","p":0.01,"y":65},{"t":"2017/08/10","p":0.01,"y":57},{"t":"2017/08/11","p":0.01,"y":57},{"t":"2017/08/12","p":0.01,"y":102},{"t":"2017/08/13","p":0.01,"y":95},{"t":"2017/08/14","p":0.01,"y":65},{"t":"2017/08/15","p":0.01,"y":62}
  ]
 },
 "columns": 2,
 "align": "none",
 "spacing": {"row": 11, "column": 66},
 "resolve": {"scale": {"color": "independent", "x": "independent", "y": "independent"}, "legend": {"color": "independent"}},
 "concat": [
   {"title": {"text": "(a) Store (1)", "orient": "bottom", "anchor": "middle", "font": "DejaVu Serif", "fontSize": 20, "fontWeight": "normal", "offset": 25},
    "vconcat": [{"title": "Store 1", "width": 405, "height": 303, "layer": [
     {"data": {"name": "s1q"}, "mark": {"type": "line"}, "encoding": {"x": {"field": "t", "type": "temporal", "title": "t"}, "y": {"field": "y", "type": "quantitative", "title": "Demand", "scale": {"domain": [0, 12]}}, "color": {"field": "p", "type": "ordinal", "title": "prob"}}},
     {"data": {"name": "s1o"}, "mark": {"type": "point", "filled": true, "color": "red", "opacity": 0.7}, "encoding": {"x": {"field": "t", "type": "temporal", "title": "t"}, "y": {"field": "d", "type": "quantitative", "title": "Demand"}}}
    ]}]},
   {"title": {"text": "(b) City (Quito)", "orient": "bottom", "anchor": "middle", "font": "DejaVu Serif", "fontSize": 20, "fontWeight": "normal", "offset": 25},
    "vconcat": [{"title": "Quito", "width": 398, "height": 300, "layer": [
     {"data": {"name": "qq"}, "mark": {"type": "line"}, "encoding": {"x": {"field": "t", "type": "temporal", "title": "t"}, "y": {"field": "y", "type": "quantitative", "title": "Demand", "scale": {"domain": [0, 220]}}, "color": {"field": "p", "type": "ordinal", "title": "prob"}}},
     {"data": {"name": "qo"}, "mark": {"type": "point", "filled": true, "color": "red", "opacity": 0.7}, "encoding": {"x": {"field": "t", "type": "temporal", "title": "t"}, "y": {"field": "d", "type": "quantitative", "title": "Demand"}}}
    ]}]},
   {"title": {"text": "(c) State (Pinchincha)", "orient": "bottom", "anchor": "middle", "font": "DejaVu Serif", "fontSize": 20, "fontWeight": "normal", "offset": 23},
    "vconcat": [{"title": "Pinchincha", "width": 396, "height": 300, "layer": [
     {"data": {"name": "qq"}, "mark": {"type": "line"}, "encoding": {"x": {"field": "t", "type": "temporal", "title": "t"}, "y": {"field": "y", "type": "quantitative", "title": "Demand", "scale": {"domain": [0, 220]}}, "color": {"field": "p", "type": "ordinal", "title": "prob"}}},
     {"data": {"name": "qo"}, "mark": {"type": "point", "filled": true, "color": "red", "opacity": 0.7}, "encoding": {"x": {"field": "t", "type": "temporal", "title": "t"}, "y": {"field": "d", "type": "quantitative", "title": "Demand"}}}
    ]}]},
   {"title": {"text": "(d) Country (Ecuador)", "orient": "bottom", "anchor": "middle", "font": "DejaVu Serif", "fontSize": 20, "fontWeight": "normal", "offset": 23},
    "vconcat": [{"title": "Ecuador", "width": 398, "height": 300, "layer": [
     {"data": {"name": "eq"}, "mark": {"type": "line"}, "encoding": {"x": {"field": "t", "type": "temporal", "title": "t"}, "y": {"field": "y", "type": "quantitative", "title": "Demand", "scale": {"domain": [0, 450]}}, "color": {"field": "p", "type": "ordinal", "title": "prob"}}},
     {"data": {"name": "eo"}, "mark": {"type": "point", "filled": true, "color": "red", "opacity": 0.7}, "encoding": {"x": {"field": "t", "type": "temporal", "title": "t"}, "y": {"field": "d", "type": "quantitative", "title": "Demand"}}}
    ]}]}
 ]
}
